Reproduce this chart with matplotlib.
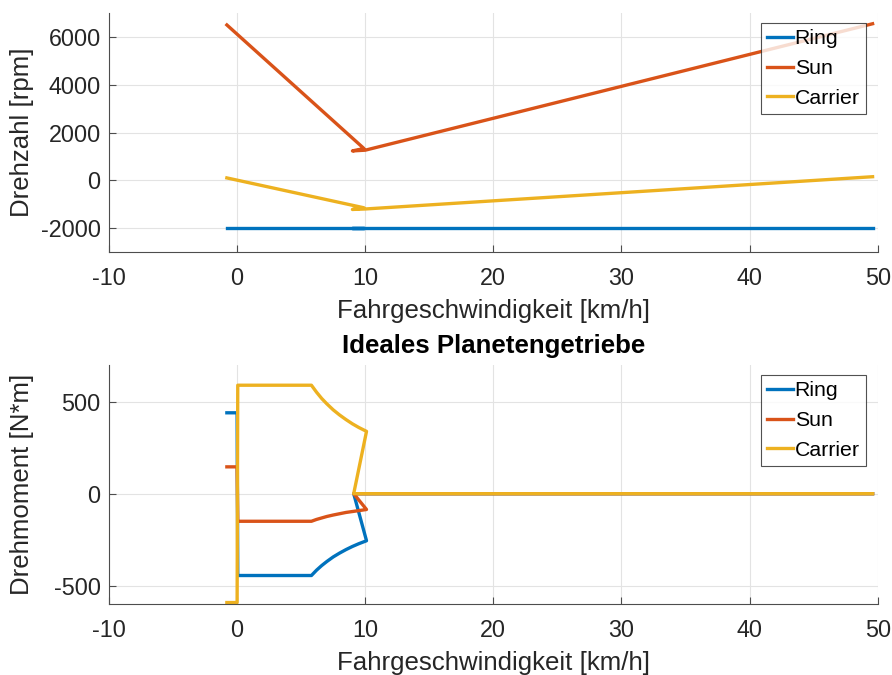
import matplotlib
matplotlib.use("Agg")
import matplotlib.pyplot as plt

plt.rcParams['font.family'] = ['Liberation Sans', 'DejaVu Sans']
plt.rcParams['axes.unicode_minus'] = False

# ---- data: speed (top) ----
v_top = [-0.8, 9.9, 9.0, 10.0, 49.6]
ring_n = [-2000, -2000, -2000, -2000, -2000]
sun_n = [6500, 1330, 1230, 1260, 6550]
carrier_n = [100, -1150, -1220, -1200, 150]

# ---- data: torque (bottom) ----
v_bot = [-0.8, 0.0, 0.05, 5.8, 6.2, 6.6, 7.0, 7.5, 8.0, 8.5, 9.0, 9.5, 10.1, 9.1, 49.6]
ring_T = [440, 440, -445, -445, -416, -391, -369, -344, -323, -304, -287, -272, -256, 0, 0]
sun_T = [146, 146, -150, -150, -140, -132, -124, -116, -109, -102, -97, -92, -86, 0, 0]
carrier_T = [-592, -592, 590, 590, 552, 518, 489, 456, 428, 403, 380, 360, 339, 0, 0]

labels = ["Ring", "Sun", "Carrier"]
colors = ["#0072BD", "#D95319", "#EDB120"]
x_ticks = [-10, 0, 10, 20, 30, 40, 50]
top_yticks = [-2000, 0, 2000, 4000, 6000]
bot_yticks = [-500, 0, 500]

W, H = 892, 675
fig = plt.figure(figsize=(W / 100, H / 100), dpi=100)

dark = "#262626"
fs_tick = 16.8
fs_lab = 18.6
fs_leg = 15.3
AXW = 768.7

def style(ax, yticks, ylim, ylabel):
    ax.set_xlim(-10, 50)
    ax.set_ylim(*ylim)
    ax.set_xticks(x_ticks)
    ax.set_yticks(yticks)
    ax.grid(True, color="#e3e3e3", linewidth=0.8)
    ax.set_axisbelow(True)
    for s in ["top", "right"]:
        ax.spines[s].set_visible(False)
    for s in ["left", "bottom"]:
        ax.spines[s].set_color("#4d4d4d")
        ax.spines[s].set_linewidth(0.8)
    ax.tick_params(direction="in", length=5, width=0.8, colors="#4d4d4d",
                   labelcolor=dark, labelsize=fs_tick)
    ax.tick_params(axis="x", pad=10.5)
    ax.tick_params(axis="y", pad=6)
    ax.set_xlabel("Fahrgeschwindigkeit [km/h]", fontsize=fs_lab, color=dark, labelpad=7)
    ax.set_ylabel(ylabel, fontsize=fs_lab, color=dark)
    ax.yaxis.set_label_coords((34 - 109) / AXW, 0.5)
    leg = ax.legend(loc="upper right", fontsize=fs_leg, frameon=True, fancybox=False,
                    handlelength=1.2, handletextpad=0.1, borderpad=0.3,
                    labelspacing=0.5, borderaxespad=0.0,
                    bbox_to_anchor=((866 - 109) / AXW, 1 - 10 / 239))
    leg.get_frame().set_edgecolor("#262626")
    leg.get_frame().set_linewidth(0.8)

ax1 = fig.add_axes([109 / W, 1 - 252 / H, AXW / W, 239 / H])
for y, c, l in zip([ring_n, sun_n, carrier_n], colors, labels):
    ax1.plot(v_top, y, color=c, lw=2.4, label=l)
style(ax1, top_yticks, (-3000, 7000), "Drehzahl [rpm]")

ax2 = fig.add_axes([109 / W, 1 - 604 / H, AXW / W, 239 / H])
for y, c, l in zip([ring_T, sun_T, carrier_T], colors, labels):
    ax2.plot(v_bot, y, color=c, lw=2.4, label=l)
style(ax2, bot_yticks, (-600, 700), "Drehmoment [N*m]")
ax2.set_title("Ideales Planetengetriebe", fontsize=fs_lab, fontweight="bold", pad=9)

fig.savefig("out.png", dpi=100)
